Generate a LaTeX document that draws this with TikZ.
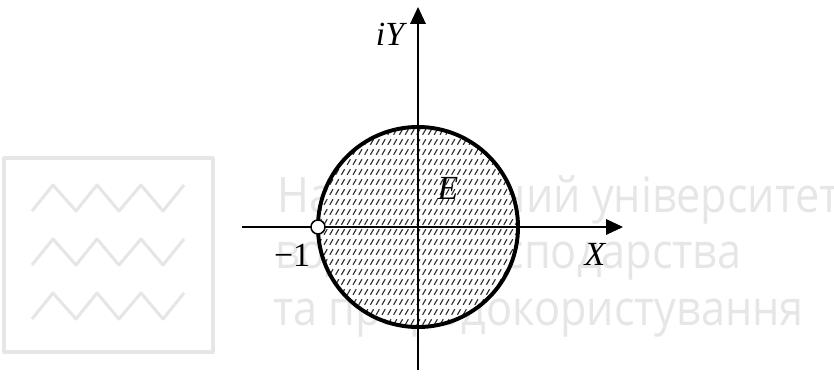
\documentclass[tikz,border=0pt]{standalone}
\usepackage{fontspec}
\setmainfont{Liberation Serif}
\newfontfamily\wmfont{Open Sans}
\usetikzlibrary{arrows.meta,positioning}
\definecolor{ink}{HTML}{000000}
\definecolor{hatchgray}{HTML}{2E2E2E}
\definecolor{wmgray}{HTML}{E6E6E6}
\tikzset{axis/.style={line width=1.1pt,draw=ink,-{Triangle[length=12pt,width=11pt]}},rim/.style={line width=2.8pt,draw=ink},hatchline/.style={line width=.8pt,draw=hatchgray},hole/.style={circle,draw=ink,fill=white,line width=1.1pt,minimum size=.35cm,inner sep=0pt},lbl/.style={font=\fontsize{24}{28}\selectfont\itshape,inner sep=0pt},wm/.style={font=\wmfont\fontsize{34.7}{40}\selectfont,text=wmgray,inner sep=0pt,anchor=base west,xscale=.885,transform shape},logo/.style={draw=wmgray,line width=2.2pt,line join=round}}

\begin{document}
\begin{tikzpicture}[x=0.025cm,y=0.025cm]
\useasboundingbox (-418,-148) rectangle (416,227);
% watermark
\draw[logo] (-414,-125) rectangle (-205,69);
\foreach \v in {0,-54,-108}
  \draw[logo] (-386,16+\v)--(-365,42+\v)--(-342,16+\v)--(-321,42+\v)--(-299,16+\v)--(-277,42+\v)--(-255,16+\v)--(-234,42+\v);
\node[wm] (wma) at (-141,15) {Національний університет};
\node[wm] (wmb) at (-143,-41) {водного господарства};
\node[wm] (wmc) at (-145,-98) {та природокористування};
% region E
\fill[white] (0,0) circle[radius=2.5cm];
\begin{scope}
\clip (0,0) circle[radius=2.5cm];
\foreach \r in {-95,-85,...,95}
  \foreach \c in {-104,-98.2,...,104}
    \draw[hatchline] (\c-1.6,\r-2.8)--++(3.2,5.6);
\end{scope}
% axes
\coordinate (O) at (0,0);
\coordinate (xl) at (-176,0);
\coordinate (xr) at (205,0);
\coordinate (yb) at (0,-143);
\coordinate (yt) at (0,220);
\draw[axis] (xl)--(xr);
\draw[axis] (yb)--(yt);
\draw[rim] (O) circle[radius=2.5cm];
\node[hole] (m1) at (-100,0) {};
\node[lbl] (iy) at (-28,193) {iY};
\node[lbl] (e) at (30,39) {E};
\node[lbl,font=\fontsize{24}{28}\selectfont] (one) at (-126,-28) {−1};
\node[lbl] (xx) at (177,-27) {X};
\end{tikzpicture}
\end{document}
